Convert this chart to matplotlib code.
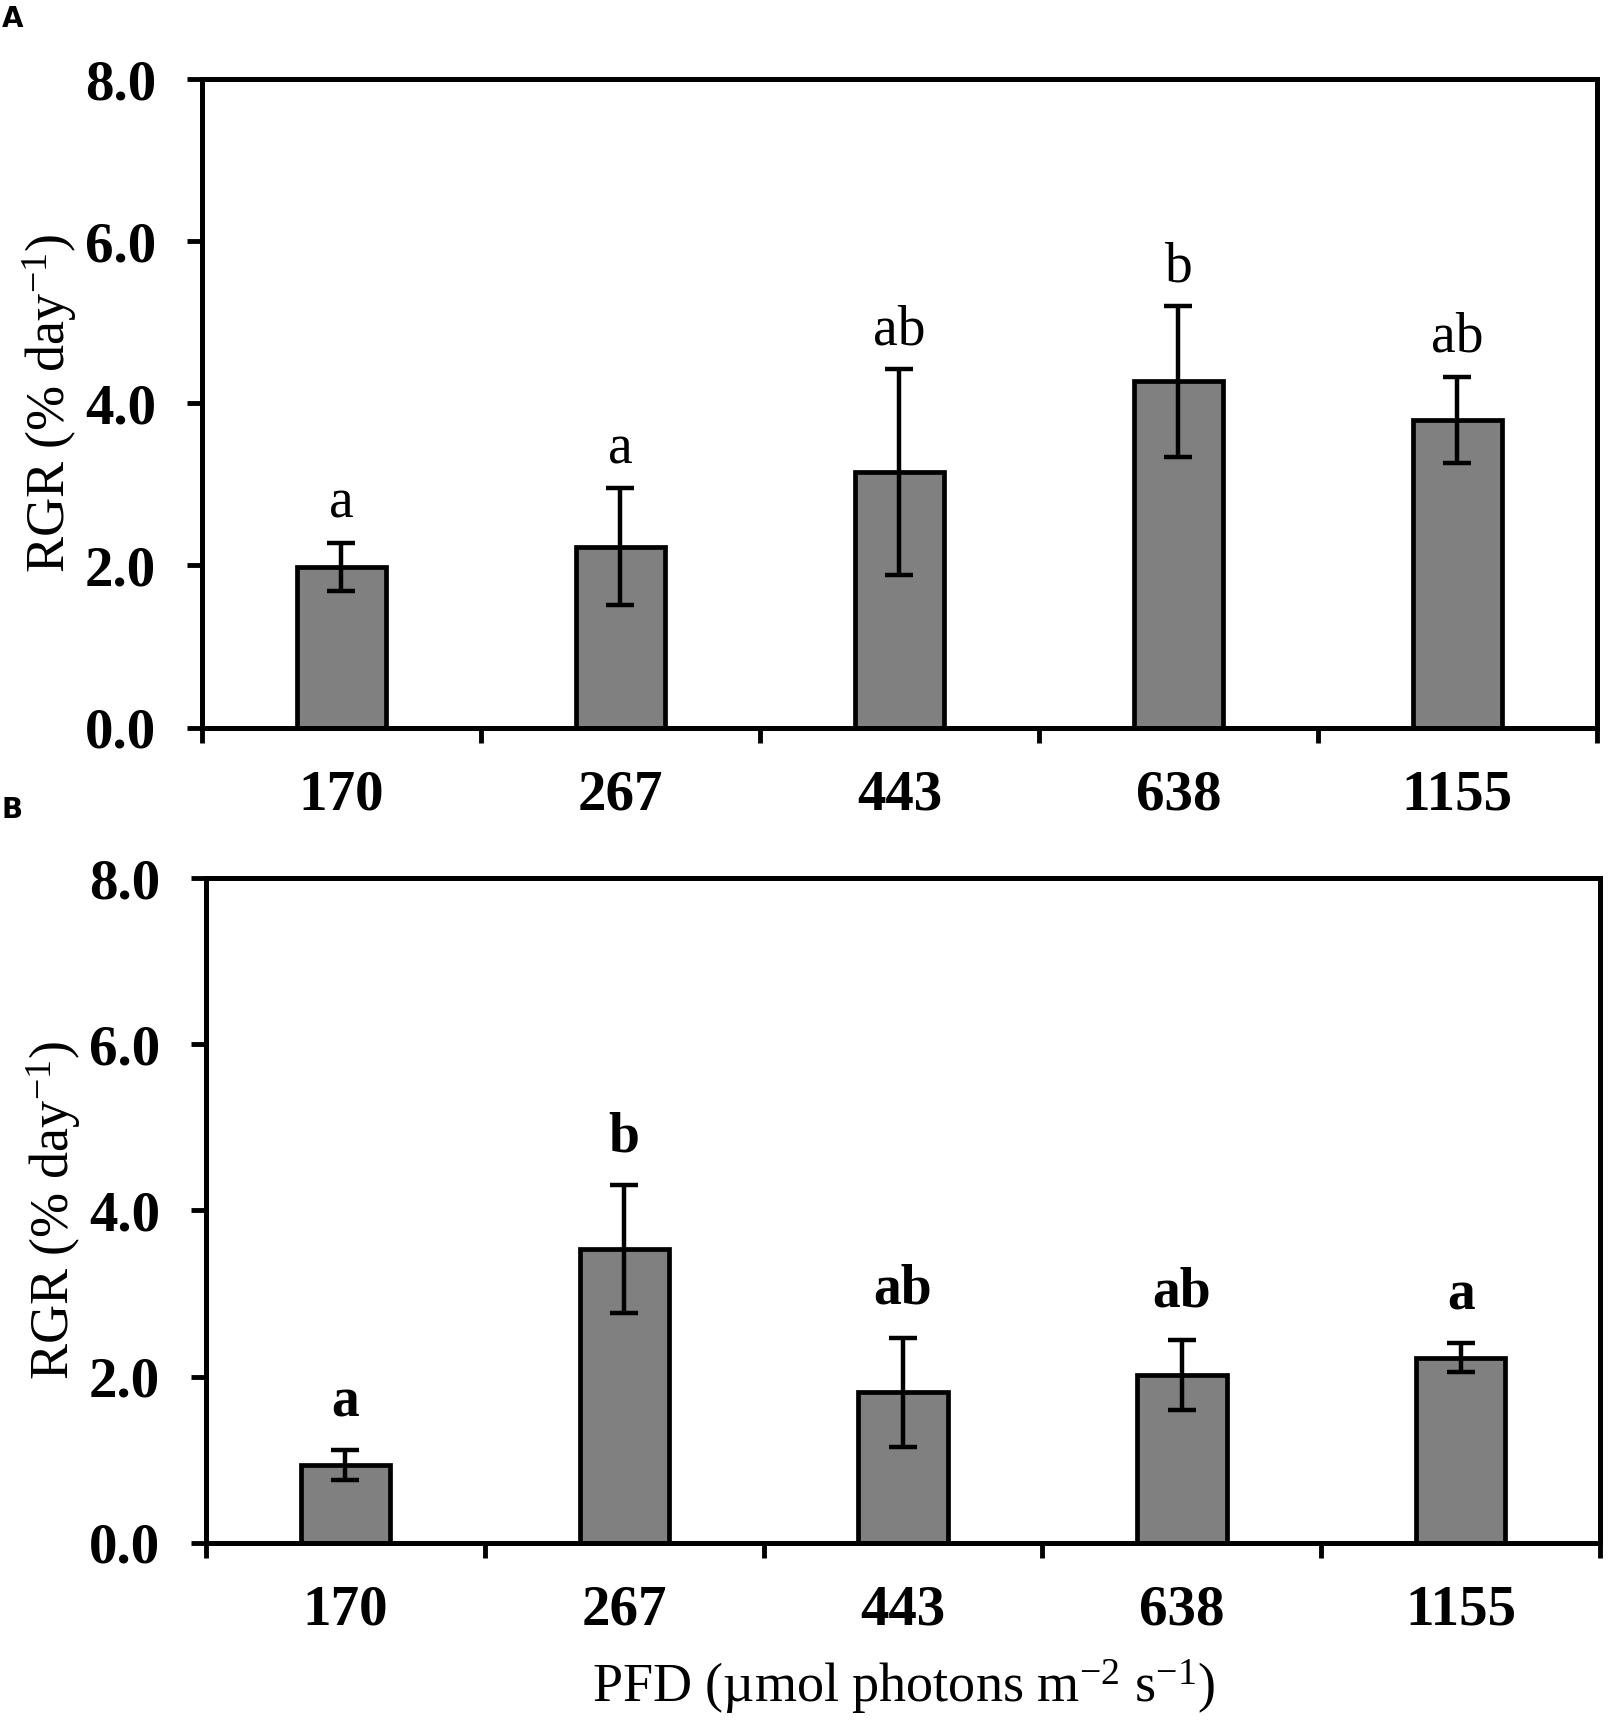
import matplotlib
matplotlib.use('Agg')
from matplotlib import pyplot as plt
import numpy as np

plt.rcParams['font.family'] = ['Liberation Serif', 'DejaVu Serif']
plt.rcParams['mathtext.fontset'] = 'custom'
plt.rcParams['mathtext.rm'] = 'Liberation Serif'
plt.rcParams['mathtext.it'] = 'Liberation Serif:italic'
plt.rcParams['mathtext.bf'] = 'Liberation Serif:bold'

pfd = ['170', '267', '443', '638', '1155']

rgr_a = [1.98, 2.23, 3.15, 4.27, 3.80]
err_a = [0.30, 0.72, 1.27, 0.93, 0.53]
sig_a = ['a', 'a', 'ab', 'b', 'ab']

rgr_b = [0.94, 3.54, 1.81, 2.02, 2.23]
err_b = [0.18, 0.77, 0.66, 0.42, 0.17]
sig_b = ['a', 'b', 'ab', 'ab', 'a']

fig = plt.figure(figsize=(16.09, 17.20), dpi=100)
ax_a = fig.add_axes([0.1255, 0.577, 0.8670, 0.377])
ax_b = fig.add_axes([0.1280, 0.103, 0.8665, 0.3865])


def draw_panel(ax, vals, errs, sigs, bold_sig, sig_off):
    x = np.arange(len(pfd))
    ax.bar(x, vals, width=0.32, color='#808080', edgecolor='black', linewidth=3.4, zorder=2)
    ax.errorbar(x, vals, yerr=errs, fmt='none', ecolor='black', elinewidth=3.2,
                capsize=10, capthick=3.2, zorder=3)
    for i in range(len(x)):
        ax.text(x[i], vals[i] + errs[i] + sig_off, sigs[i], ha='center', va='bottom',
                fontsize=40, fontweight='bold' if bold_sig else 'normal')
    ax.set_xlim(-0.5, len(pfd) - 0.5)
    ax.set_ylim(0, 8)
    ax.set_yticks([0, 2, 4, 6, 8])
    ax.set_yticklabels(['0.0', '2.0', '4.0', '6.0', '8.0'], fontsize=41, fontweight='bold')
    # ticks between categories on x, labels centred under bars
    ax.set_xticks(np.arange(len(pfd) + 1) - 0.5)
    ax.set_xticklabels([])
    ax.set_xticks(x, minor=True)
    ax.set_xticklabels(pfd, minor=True, fontsize=41, fontweight='bold')
    ax.tick_params(axis='x', which='major', direction='out', length=11, width=3.5)
    ax.tick_params(axis='x', which='minor', length=0, pad=30)
    ax.tick_params(axis='y', direction='out', length=11, width=3.5, pad=22)
    for s in ax.spines.values():
        s.set_linewidth(3.6)
    ax.set_ylabel('RGR (% day$^{\u22121}$)', fontsize=39, labelpad=4)


draw_panel(ax_a, rgr_a, err_a, sig_a, False, 0.16)
draw_panel(ax_b, rgr_b, err_b, sig_b, True, 0.26)
ax_b.set_xlabel('PFD (\u00b5mol photons m$^{\u22122}$ s$^{\u22121}$)', fontsize=39, labelpad=15)

fig.text(0.001, 0.997, 'A', family='DejaVu Sans', fontsize=20, fontweight='bold', va='top', ha='left')
fig.text(0.001, 0.537, 'B', family='DejaVu Sans', fontsize=20, fontweight='bold', va='top', ha='left')

fig.savefig('out.png', dpi=100)
